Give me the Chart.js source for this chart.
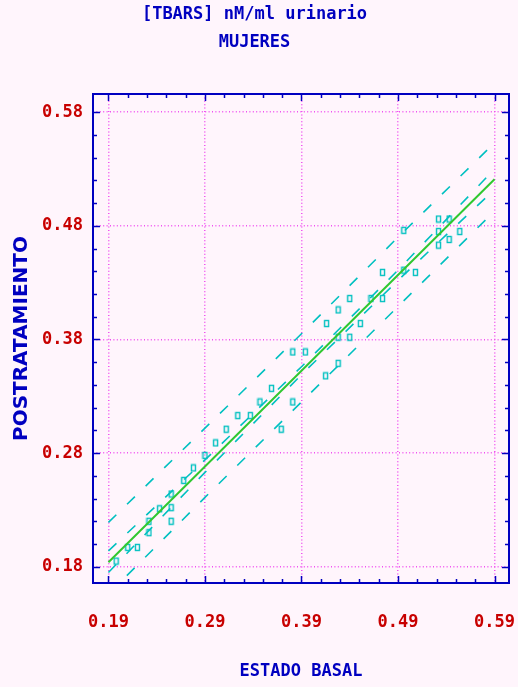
<!DOCTYPE html>
<html>
<head>
<meta charset="utf-8">
<script src="https://cdn.jsdelivr.net/npm/chart.js@4.4.0/dist/chart.umd.min.js"></script>
<style>
  html, body { margin: 0; padding: 0; background: #fff5fc; }
  #wrap { width: 518px; height: 687px; }
</style>
</head>
<body>
<div id="wrap"><canvas id="chart"></canvas></div>
<script>
// textos
const titleLines = ["[TBARS] nM/ml urinario", "MUJERES"];
const xTitle = "ESTADO BASAL";
const yTitle = "POSTRATAMIENTO";
const xTicks = [0.19, 0.29, 0.39, 0.49, 0.59];
const yTicks = [0.18, 0.28, 0.38, 0.48, 0.58];

// puntos (estado basal vs postratamiento)
const basal = [0.198, 0.210, 0.220, 0.232, 0.232, 0.243, 0.255, 0.255, 0.255, 0.268,
               0.278, 0.290, 0.301, 0.312, 0.324, 0.337, 0.347, 0.359, 0.381, 0.369,
               0.381, 0.394, 0.415, 0.428, 0.428, 0.440, 0.416, 0.451, 0.428, 0.440,
               0.462, 0.474, 0.474, 0.496, 0.508, 0.496, 0.532, 0.543, 0.532, 0.554,
               0.543, 0.532];
const post  = [0.185, 0.197, 0.197, 0.210, 0.220, 0.231, 0.220, 0.232, 0.244, 0.256,
               0.267, 0.278, 0.289, 0.301, 0.313, 0.313, 0.325, 0.337, 0.325, 0.301,
               0.369, 0.369, 0.348, 0.359, 0.382, 0.382, 0.394, 0.394, 0.406, 0.416,
               0.416, 0.416, 0.439, 0.441, 0.439, 0.476, 0.486, 0.486, 0.475, 0.475,
               0.468, 0.463];

// recta de regresion
const fitX = [0.19, 0.59];
const fitY = [0.184, 0.521];

// bandas de confianza / prediccion
const bandX = [0.19, 0.29, 0.39, 0.49, 0.59];
const innerUpper = [0.194, 0.274, 0.356, 0.441, 0.530];
const innerLower = [0.175, 0.263, 0.349, 0.432, 0.512];
const outerUpper = [0.219, 0.302, 0.385, 0.470, 0.553];
const outerLower = [0.156, 0.241, 0.325, 0.409, 0.493];

const BLUE = '#0000c0';
const RED = '#c80000';
const CYAN = '#00c0c0';
const GRID = '#f050f0';

// marcador: rectangulo hueco
const marker = document.createElement('canvas');
marker.width = 7; marker.height = 9;
const mctx = marker.getContext('2d');
mctx.strokeStyle = CYAN;
mctx.lineWidth = 1.4;
mctx.strokeRect(1.5, 1.5, 4, 6);

function toXY(xs, ys) {
  return xs.map((v, i) => ({ x: v, y: ys[i] }));
}

function band(ys) {
  return {
    type: 'line',
    data: toXY(bandX, ys),
    borderColor: CYAN,
    borderWidth: 1.6,
    borderDash: [11, 15],
    pointRadius: 0,
    fill: false,
    tension: 0
  };
}

// marco azul con marcas hacia dentro
const framePlugin = {
  id: 'frame',
  afterDraw(chart) {
    const { ctx, chartArea: a, scales: { x, y } } = chart;
    ctx.save();
    ctx.strokeStyle = BLUE;
    ctx.lineWidth = 2;
    ctx.strokeRect(a.left, a.top, a.right - a.left, a.bottom - a.top);
    ctx.lineWidth = 1.5;
    ctx.beginPath();
    for (let i = 0; i <= 20; i++) {
      const len = i % 5 === 0 ? 7 : 4;
      const px = Math.round(x.getPixelForValue(0.19 + i * 0.02)) + 0.5;
      ctx.moveTo(px, a.top); ctx.lineTo(px, a.top + len);
      ctx.moveTo(px, a.bottom); ctx.lineTo(px, a.bottom - len);
      const py = Math.round(y.getPixelForValue(0.18 + i * 0.02)) + 0.5;
      ctx.moveTo(a.left, py); ctx.lineTo(a.left + len, py);
      ctx.moveTo(a.right, py); ctx.lineTo(a.right - len, py);
    }
    ctx.stroke();
    ctx.restore();
  }
};

const monoFont = { family: "'DejaVu Sans Mono'", size: 17, weight: 'bold' };

new Chart(document.getElementById('chart'), {
  type: 'scatter',
  data: {
    datasets: [
      {
        type: 'line',
        data: toXY(fitX, fitY),
        borderColor: '#30c830',
        borderWidth: 2,
        pointRadius: 0,
        fill: false
      },
      band(innerUpper),
      band(innerLower),
      band(outerUpper),
      band(outerLower),
      {
        data: toXY(basal, post),
        pointStyle: marker,
        pointRadius: 4,
        showLine: false
      }
    ]
  },
  options: {
    responsive: true,
    maintainAspectRatio: false,
    animation: false,
    events: [],
    layout: { padding: { left: 0, right: 9, top: 0, bottom: 0 } },
    plugins: {
      legend: { display: false },
      tooltip: { enabled: false },
      title: {
        display: true,
        text: titleLines,
        color: BLUE,
        font: { ...monoFont, lineHeight: 28 / 17 },
        padding: { top: 1, bottom: 37 }
      }
    },
    scales: {
      x: {
        type: 'linear',
        min: 0.174,
        max: 0.605,
        afterBuildTicks: s => { s.ticks = xTicks.map(v => ({ value: v })); },
        afterFit: s => { s.height = 104; s.paddingLeft = 0; s.paddingRight = 0; },
        ticks: {
          color: RED,
          font: monoFont,
          padding: 29,
          maxRotation: 0,
          callback: v => v.toFixed(2)
        },
        grid: { color: GRID, lineWidth: 1.5, drawTicks: false },
        border: { display: false, dash: [1, 2.4] },
        title: {
          display: true,
          text: xTitle,
          color: BLUE,
          font: monoFont,
          padding: { top: 0, bottom: 5 }
        }
      },
      y: {
        type: 'linear',
        min: 0.1657,
        max: 0.596,
        afterBuildTicks: s => { s.ticks = yTicks.map(v => ({ value: v })); },
        afterFit: s => { s.width = 93; s.paddingTop = 0; s.paddingBottom = 0; },
        ticks: {
          color: RED,
          font: monoFont,
          padding: 10,
          callback: v => v.toFixed(2)
        },
        grid: { color: GRID, lineWidth: 1.5, drawTicks: false },
        border: { display: false, dash: [1, 2.4] },
        title: {
          display: true,
          text: yTitle,
          color: BLUE,
          font: { family: "'DejaVu Sans'", size: 20, weight: 'bold' },
          padding: { top: 10, bottom: 0 }
        }
      }
    }
  },
  plugins: [framePlugin]
});
</script>
</body>
</html>
